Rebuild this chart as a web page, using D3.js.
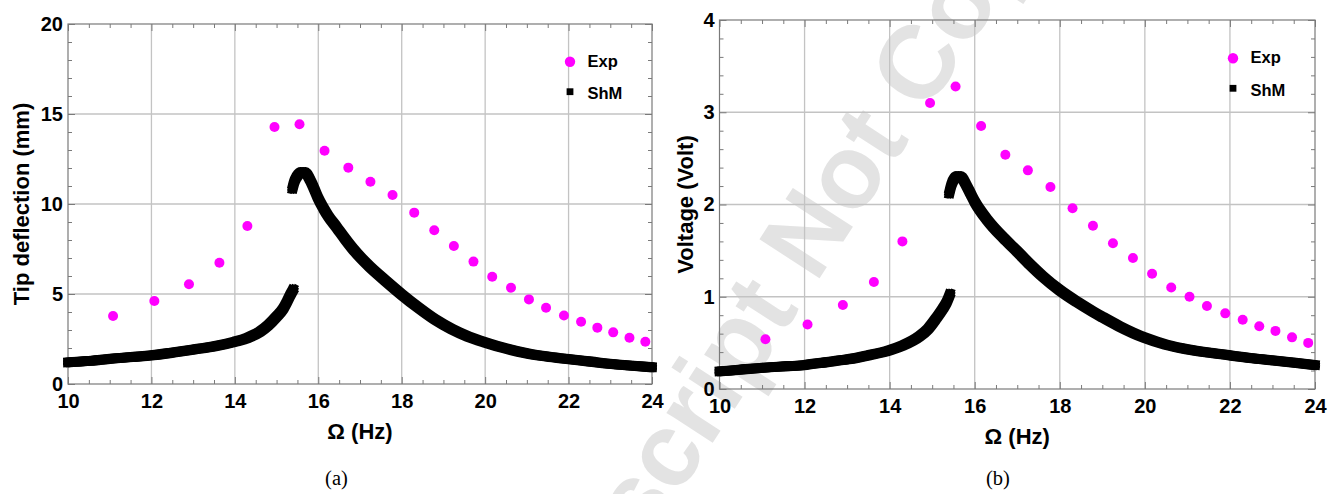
<!DOCTYPE html>
<html>
<head>
<meta charset="utf-8">
<script src="https://cdn.jsdelivr.net/npm/d3@7"></script>
<style>
  body { margin: 0; background: #fff; }
  svg { display: block; }
  .tick text { font-family: "Liberation Sans", Arial, sans-serif; font-weight: bold; }
</style>
</head>
<body>
<svg id="fig" width="1328" height="494"></svg>
<script>
// ---- measured response data ----
const expFreq = [11.08, 12.07, 12.9, 13.63, 14.3, 14.95, 15.55, 16.15, 16.72, 17.25, 17.78, 18.3, 18.78,
                 19.25, 19.72, 20.17, 20.62, 21.05, 21.46, 21.89, 22.3, 22.69, 23.07, 23.46, 23.84];
const expDefl = [3.78, 4.61, 5.54, 6.74, 8.78, 14.28, 14.43, 12.96, 12.02, 11.24, 10.5, 9.52, 8.54,
                 7.67, 6.8, 5.96, 5.35, 4.7, 4.24, 3.81, 3.46, 3.13, 2.87, 2.57, 2.35];
const expVolt = [0.54, 0.7, 0.91, 1.16, 1.6, 3.1, 3.28, 2.85, 2.54, 2.37, 2.19, 1.96, 1.77,
                 1.58, 1.42, 1.25, 1.1, 1.0, 0.9, 0.82, 0.75, 0.68, 0.63, 0.56, 0.5];

// ---- ShM model: lower (pre-jump) and upper (post-jump) branches ----
const shmLowFreqA = [10.0, 10.5, 11.0, 11.5, 12.0, 12.5, 13.0, 13.5, 14.0, 14.3, 14.6, 14.8, 15.0, 15.15, 15.25, 15.33, 15.4];
const shmLowDefl  = [1.2, 1.28, 1.4, 1.49, 1.59, 1.74, 1.91, 2.09, 2.35, 2.56, 2.9, 3.26, 3.74, 4.15, 4.57, 4.95, 5.25];
const shmUpFreqA  = [15.38, 15.42, 15.48, 15.56, 15.64, 15.72, 15.8, 15.9, 16.0, 16.12, 16.24, 16.44, 16.64, 16.84,
                     17.04, 17.24, 17.6, 18.0, 18.4, 18.8, 19.2, 19.6, 20.0, 20.5, 21.0, 21.5, 22.0, 22.5, 23.0, 23.5, 24.0];
const shmUpDefl   = [10.85, 11.2, 11.5, 11.72, 11.78, 11.68, 11.35, 10.85, 10.3, 9.78, 9.32, 8.7, 8.07, 7.48,
                     6.96, 6.5, 5.76, 4.97, 4.24, 3.58, 3.05, 2.63, 2.31, 1.97, 1.7, 1.52, 1.38, 1.25, 1.12, 1.02, 0.93];

const shmLowFreqB = [10.0, 10.5, 11.0, 11.5, 12.0, 12.5, 13.0, 13.5, 14.0, 14.3, 14.7, 14.9, 15.1, 15.25, 15.34, 15.42];
const shmLowVolt  = [0.19, 0.21, 0.23, 0.245, 0.26, 0.29, 0.32, 0.365, 0.42, 0.47, 0.57, 0.65, 0.77, 0.87, 0.94, 1.03];
const shmUpFreqB  = [15.4, 15.45, 15.52, 15.62, 15.7, 15.8, 15.9, 16.0, 16.3, 16.67, 17.0, 17.3, 17.6, 18.0,
                     18.4, 18.79, 19.0, 19.4, 20.0, 20.5, 21.0, 21.5, 22.0, 22.5, 23.0, 23.5, 24.0];
const shmUpVolt   = [2.12, 2.21, 2.28, 2.31, 2.29, 2.21, 2.12, 2.03, 1.83, 1.64, 1.49, 1.35, 1.22, 1.07,
                     0.945, 0.835, 0.78, 0.68, 0.555, 0.48, 0.43, 0.395, 0.365, 0.335, 0.31, 0.285, 0.26];

// ---- axis ticks ----
const xTicks = [10, 12, 14, 16, 18, 20, 22, 24];
const yTicksA = [0, 5, 10, 15, 20];
const yTicksB = [0, 1, 2, 3, 4];
const legendLabels = ["Exp", "ShM"];

const svg = d3.select("#fig");
const SANS = '"Liberation Sans", Arial, sans-serif';
const SERIF = '"Liberation Serif", "Times New Roman", serif';
const MAGENTA = "#ff00ff";

// faint diagonal watermark behind both panels
const WM_SIZE = 104;
const wm = svg.append("g").attr("transform", "translate(815.7,284) rotate(-57)")
  .style("font-family", SANS).style("font-weight", "bold").style("font-size", WM_SIZE + "px").attr("fill", "#e3e3e3");
wm.append("text").attr("x", -0.278 * WM_SIZE).attr("text-anchor", "end").text("Accepted Manuscript");
wm.append("text").attr("x", 0).attr("text-anchor", "start").text("Not Copyedited");

function panel(o) {
  const g = svg.append("g");
  const x = d3.scaleLinear().domain([10, 24]).range([o.x0, o.x1]);
  const y = d3.scaleLinear().domain([0, o.yMax]).range([o.y1, o.y0]);
  const W = o.x1 - o.x0, H = o.y1 - o.y0;

  // grid
  const grid = g.append("g").attr("stroke", "#c3c3c3").attr("stroke-width", 1.3);
  xTicks.slice(1, -1).forEach(v => grid.append("line")
    .attr("x1", x(v)).attr("x2", x(v)).attr("y1", o.y0).attr("y2", o.y1));
  o.yTicks.slice(1, -1).forEach(v => grid.append("line")
    .attr("y1", y(v)).attr("y2", y(v)).attr("x1", o.x0).attr("x2", o.x1));

  // minor ticks on all four sides
  const xMinor = d3.range(10, 24.001, 0.5).filter(v => !xTicks.includes(v));
  const yMinor = d3.range(0, o.yMax + 1e-6, o.yMinorStep).map(v => +v.toFixed(3))
    .filter(v => !o.yTicks.some(t => Math.abs(t - v) < 1e-6));
  const styleAxis = sel => {
    sel.select(".domain").remove();
    sel.selectAll(".tick line").attr("stroke", "#7a7a7a").attr("stroke-width", 1);
  };
  g.append("g").attr("transform", `translate(0,${o.y1})`)
    .call(d3.axisBottom(x).tickValues(xMinor).tickSize(-4).tickFormat("")).call(styleAxis);
  g.append("g").attr("transform", `translate(0,${o.y0})`)
    .call(d3.axisTop(x).tickValues(xMinor).tickSize(-4).tickFormat("")).call(styleAxis);
  g.append("g").attr("transform", `translate(${o.x0},0)`)
    .call(d3.axisLeft(y).tickValues(yMinor).tickSize(-4).tickFormat("")).call(styleAxis);
  g.append("g").attr("transform", `translate(${o.x1},0)`)
    .call(d3.axisRight(y).tickValues(yMinor).tickSize(-4).tickFormat("")).call(styleAxis);

  // major ticks with labels
  const labelAxis = sel => {
    styleAxis(sel);
    sel.selectAll(".tick text").attr("fill", "#000").style("font-size", "20px");
  };
  g.append("g").attr("transform", `translate(0,${o.y1})`)
    .call(d3.axisBottom(x).tickValues(xTicks).tickSize(-7).tickPadding(9.5).tickFormat(d3.format("d")))
    .call(labelAxis);
  g.append("g").attr("transform", `translate(${o.x0},0)`)
    .call(d3.axisLeft(y).tickValues(o.yTicks).tickSize(-7).tickPadding(5).tickFormat(d3.format("d")))
    .call(labelAxis);
  g.append("g").attr("transform", `translate(0,${o.y0})`)
    .call(d3.axisTop(x).tickValues(xTicks).tickSize(-7).tickFormat("")).call(styleAxis);
  g.append("g").attr("transform", `translate(${o.x1},0)`)
    .call(d3.axisRight(y).tickValues(o.yTicks).tickSize(-7).tickFormat("")).call(styleAxis);

  // frame
  g.append("rect").attr("x", o.x0).attr("y", o.y0).attr("width", W).attr("height", H)
    .attr("fill", "none").attr("stroke", "#7a7a7a").attr("stroke-width", 1.2);

  // ShM curve: dense square markers, drawn as a square-pen stroke
  const line = d3.line().x(d => x(d[0])).y(d => y(d[1])).curve(d3.curveMonotoneX);
  const shm = g.append("g").attr("fill", "none").attr("stroke", "#000")
    .attr("stroke-width", 4.8).attr("stroke-linecap", "square").attr("stroke-linejoin", "round");
  const branches = [d3.zip(o.lowF, o.lowV), d3.zip(o.upF, o.upV)];
  [-2.5, 0, 2.5].forEach(dx => [-2.5, 0, 2.5].forEach(dy => {
    branches.forEach(b => shm.append("path").attr("d", line(b))
      .attr("transform", `translate(${dx},${dy})`));
  }));

  // experimental points
  g.append("g").selectAll("circle").data(d3.zip(expFreq, o.exp)).join("circle")
    .attr("cx", d => x(d[0])).attr("cy", d => y(d[1])).attr("r", 5).attr("fill", MAGENTA);

  // legend
  const lg = g.append("g").attr("transform", `translate(${o.x1 - 82},${o.legY})`)
    .style("font-family", SANS).style("font-weight", "bold").style("font-size", "16.5px");
  lg.append("circle").attr("cx", 0).attr("cy", 0).attr("r", 5.2).attr("fill", MAGENTA);
  lg.append("text").attr("x", 17.5).attr("y", 5).text(legendLabels[0]);
  lg.append("rect").attr("x", -3.4).attr("y", 30 - 3.4).attr("width", 6.8).attr("height", 6.8).attr("fill", "#000");
  lg.append("text").attr("x", 17.5).attr("y", 37.5).text(legendLabels[1]);

  // axis titles
  g.append("text").attr("x", (o.x0 + o.x1) / 2).attr("y", o.y1 + 55).attr("text-anchor", "middle")
    .style("font-family", SANS).style("font-weight", "bold").style("font-size", "22px").text("Ω (Hz)");
  g.append("text").attr("transform", `translate(${o.titleX},${(o.y0 + o.y1) / 2}) rotate(-90)`)
    .attr("text-anchor", "middle")
    .style("font-family", SANS).style("font-weight", "bold").style("font-size", "22px").text(o.yTitle);

  // panel caption
  g.append("text").attr("x", o.capX).attr("y", 485).attr("text-anchor", "middle")
    .style("font-family", SERIF).style("font-size", "20.5px").text(o.caption);
}

panel({ x0: 68, x1: 652, y0: 24, y1: 384, yMax: 20, yTicks: yTicksA, yMinorStep: 1,
        lowF: shmLowFreqA, lowV: shmLowDefl, upF: shmUpFreqA, upV: shmUpDefl, exp: expDefl,
        legY: 61.7, titleX: 29, yTitle: "Tip deflection (mm)", capX: 336.5, caption: "(a)" });
panel({ x0: 719.5, x1: 1315, y0: 20, y1: 389, yMax: 4, yTicks: yTicksB, yMinorStep: 0.2,
        lowF: shmLowFreqB, lowV: shmLowVolt, upF: shmUpFreqB, upV: shmUpVolt, exp: expVolt,
        legY: 58.3, titleX: 693, yTitle: "Voltage (Volt)", capX: 998, caption: "(b)" });
</script>
</body>
</html>
